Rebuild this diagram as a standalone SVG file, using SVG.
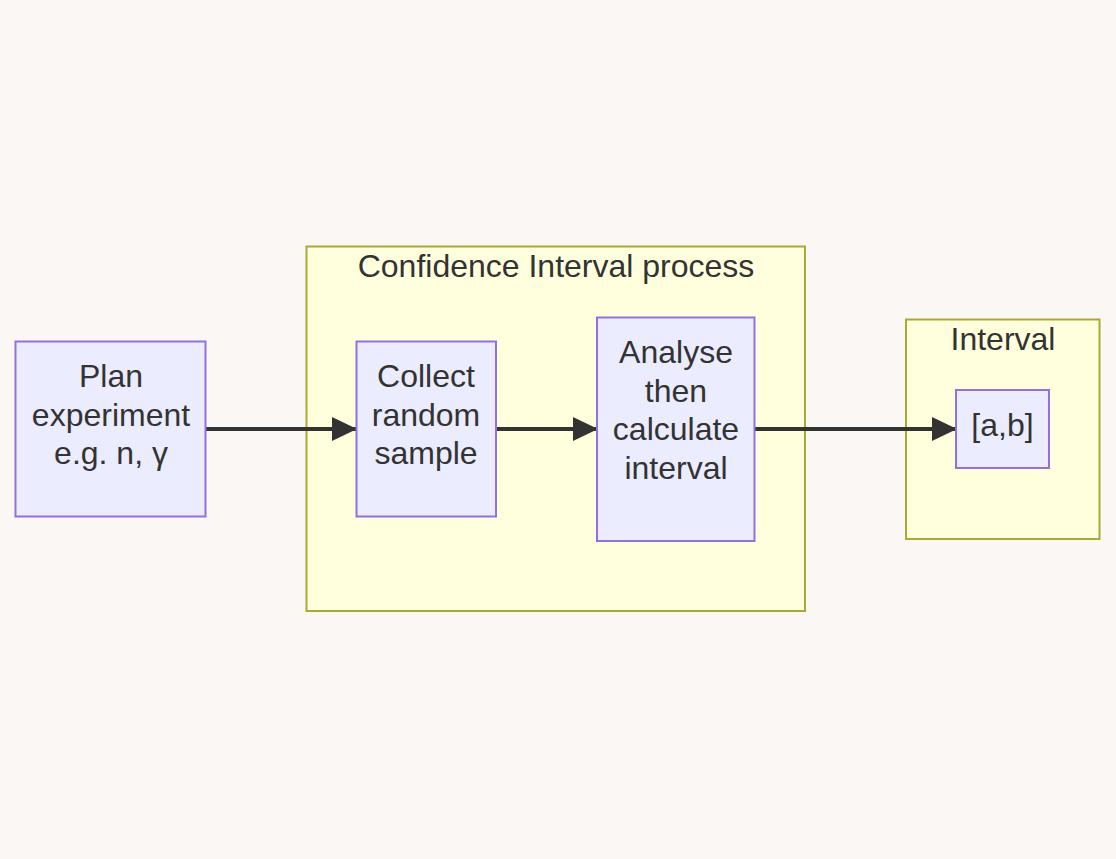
<svg xmlns="http://www.w3.org/2000/svg" width="1116" height="859" viewBox="0 0 1116 859">
<defs>
<marker id="arr" markerWidth="25" markerHeight="24" refX="24" refY="12" orient="auto" markerUnits="userSpaceOnUse" viewBox="0 0 25 24">
<path d="M0,0 L25,12 L0,24 z" fill="#333"/>
</marker>
<style>
.node rect{fill:#ECECFF;stroke:#9370DB;stroke-width:2}
.cluster rect{fill:#FFFFDE;stroke:#AAAA33;stroke-width:2}
text{font-family:"Liberation Sans",Arial,sans-serif;font-size:32px;fill:#333;text-anchor:middle}
.edge{stroke:#333;stroke-width:4;fill:none}
</style>
</defs>
<rect width="1116" height="859" fill="#FAF7F4"/>
<g id="cluster-ci" class="cluster">
<rect x="306.5" y="246.5" width="498.5" height="364.5"/>
<text x="556" y="277">Confidence Interval process</text>
</g>
<g id="cluster-interval" class="cluster">
<rect x="906" y="319.5" width="193.5" height="219.5"/>
<text x="1003" y="350">Interval</text>
</g>
<g id="connectors">
<path class="edge" d="M206,429 H356" marker-end="url(#arr)"/>
<path class="edge" d="M497,429 H597" marker-end="url(#arr)"/>
<path class="edge" d="M755,429 H956" marker-end="url(#arr)"/>
</g>
<g id="plan" class="node">
<rect x="15.5" y="341.5" width="190" height="175"/>
<text x="111" y="387">Plan</text>
<text x="111" y="425.5">experiment</text>
<text x="111" y="464">e.g. n, γ</text>
</g>
<g id="collect" class="node">
<rect x="356.5" y="341.5" width="139.5" height="175"/>
<text x="426" y="387">Collect</text>
<text x="426" y="425.5">random</text>
<text x="426" y="464">sample</text>
</g>
<g id="analyse" class="node">
<rect x="597" y="317.5" width="157.5" height="223.5"/>
<text x="676" y="363">Analyse</text>
<text x="676" y="401.5">then</text>
<text x="676" y="440">calculate</text>
<text x="676" y="478.5">interval</text>
</g>
<g id="ab" class="node">
<rect x="956" y="390" width="93" height="78"/>
<text x="1002.5" y="436">[a,b]</text>
</g>
</svg>
